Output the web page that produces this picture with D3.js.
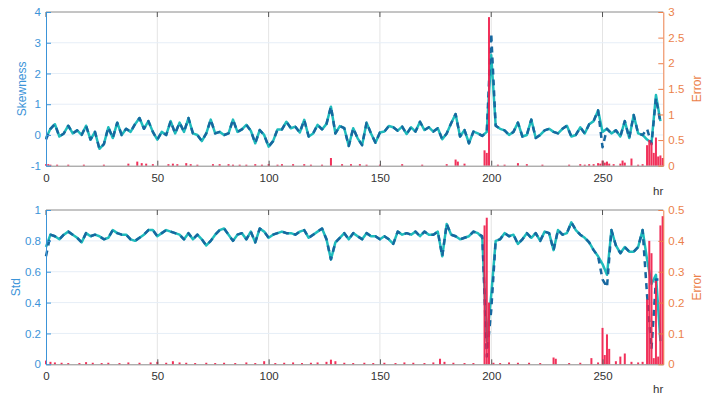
<!DOCTYPE html>
<meta charset="utf-8">
<script src="https://d3js.org/d3.v7.min.js"></script>
<style>
  body { margin: 0; background: #fff; }
  text { font-family: 'Liberation Sans', Arial, sans-serif; }
</style>
<div id="chart"></div>
<script>
// samples every 2 hr
var hours = d3.range(0, 277, 2);

var skewMeasured = [
  -0.15, 0.2, 0.35, -0.05, 0.05, 0.3, 0.05, 0.15, 0.0, 0.3, -0.15, 0.1, -0.45, -0.3, 0.25, -0.1,
  0.4, 0.0, 0.2, 0.1, 0.35, 0.55, 0.2, 0.45, 0.1, -0.15, 0.1, 0.0, 0.45, 0.05, 0.4, 0.1,
  0.55, 0.05, 0.0, -0.2, 0.05, 0.5, 0.05, 0.1, 0.0, 0.05, 0.5, 0.1,
  0.18, 0.33, 0.14, -0.27, 0.16, 0.0, -0.38, -0.2, 0.18, 0.18, 0.43, 0.22, 0.27, 0.08, 0.49, -0.05,
  0.05, 0.33, 0.18, 0.36, 0.92, 0.05, 0.29, 0.22, -0.36, 0.22, -0.11, -0.33, 0.4, 0.05, -0.25, 0.08,
  0.11, 0.29, 0.25, 0.14, 0.27, 0.03, 0.25, 0.11, 0.43, 0.16, 0.25, 0.11, 0.22, -0.14, 0.05, 0.38,
  0.68, -0.05, 0.16, -0.27,
  0.11, 0.05, -0.03, 0.1, 3.3, 0.3, 0.2, 0.15, 0.0, 0.1, 0.4, -0.05, 0.0, 0.5, -0.1, 0.0,
  0.15, 0.2, 0.1, 0.05, 0.2, 0.3, -0.05, 0.0, 0.25, 0.05, 0.35, 0.45, 0.8, -0.4, 0.2, 0.05,
  0.15, -0.05, 0.45, -0.1, 0.65, 0.05, 0.0, 0.2, -0.3, 1.2, 0.4
];
var skewModel = [
  -0.1, 0.2, 0.35, -0.05, 0.05, 0.3, 0.05, 0.15, 0.0, 0.3, -0.15, 0.1, -0.45, -0.3, 0.25, -0.1,
  0.4, 0.0, 0.2, 0.1, 0.35, 0.55, 0.2, 0.45, 0.1, -0.15, 0.1, 0.0, 0.45, 0.05, 0.4, 0.1,
  0.55, 0.05, 0.0, -0.2, 0.05, 0.5, 0.05, 0.1, 0.0, 0.05, 0.5, 0.1,
  0.18, 0.33, 0.14, -0.27, 0.16, 0.0, -0.38, -0.2, 0.18, 0.18, 0.43, 0.22, 0.27, 0.08, 0.49, -0.05,
  0.05, 0.33, 0.18, 0.36, 0.92, 0.05, 0.29, 0.22, -0.36, 0.22, -0.11, -0.33, 0.4, 0.05, -0.25, 0.08,
  0.11, 0.29, 0.25, 0.14, 0.27, 0.03, 0.25, 0.11, 0.43, 0.16, 0.25, 0.11, 0.22, -0.14, 0.05, 0.38,
  0.68, -0.05, 0.16, -0.27,
  0.11, 0.05, -0.03, 0.1, 2.6, 0.3, 0.2, 0.15, 0.0, 0.1, 0.4, -0.05, 0.0, 0.5, -0.1, 0.0,
  0.15, 0.2, 0.1, 0.05, 0.2, 0.3, -0.05, 0.0, 0.25, 0.05, 0.35, 0.45, 0.8, 0.1, 0.2, 0.05,
  0.15, -0.05, 0.45, -0.1, 0.65, 0.05, 0.0, -0.15, -0.25, 1.3, 0.45
];

var stdMeasured = [
  0.70, 0.84, 0.83, 0.81, 0.84, 0.86, 0.84, 0.82, 0.79, 0.85, 0.83, 0.84, 0.83, 0.81, 0.82, 0.87,
  0.85, 0.84, 0.84, 0.81, 0.80, 0.82, 0.84, 0.87, 0.87, 0.83, 0.85, 0.87, 0.86, 0.85, 0.84, 0.81,
  0.85, 0.81, 0.84, 0.81, 0.77, 0.80, 0.84, 0.87, 0.88, 0.84, 0.80, 0.84, 0.85, 0.81, 0.86, 0.79,
  0.88, 0.86, 0.82, 0.84, 0.85, 0.86, 0.85, 0.85, 0.84, 0.86, 0.87, 0.82, 0.84, 0.86, 0.88, 0.81,
  0.68, 0.79, 0.82, 0.85, 0.81, 0.85, 0.83, 0.81, 0.85, 0.83, 0.83, 0.81, 0.83, 0.81, 0.78, 0.86,
  0.84, 0.85, 0.84, 0.86, 0.83, 0.86, 0.84, 0.84, 0.86, 0.70, 0.91, 0.84, 0.83, 0.81, 0.82, 0.83,
  0.86, 0.85,
  0.83, 0.05, 0.35, 0.80, 0.81, 0.85, 0.83, 0.84, 0.78, 0.81, 0.85, 0.82, 0.85, 0.80, 0.86, 0.85,
  0.74, 0.87, 0.84, 0.85, 0.92, 0.87, 0.84, 0.82, 0.79, 0.74, 0.70, 0.55, 0.50, 0.87, 0.77, 0.72,
  0.76, 0.73, 0.73, 0.76, 0.87, 0.45, 0.10, 0.55, 0.55
];
var stdModel = [
  0.76, 0.84, 0.83, 0.81, 0.84, 0.86, 0.84, 0.82, 0.79, 0.85, 0.83, 0.84, 0.83, 0.81, 0.82, 0.87,
  0.85, 0.84, 0.84, 0.81, 0.80, 0.82, 0.84, 0.87, 0.87, 0.83, 0.85, 0.87, 0.86, 0.85, 0.84, 0.81,
  0.85, 0.81, 0.84, 0.81, 0.77, 0.80, 0.84, 0.87, 0.88, 0.84, 0.80, 0.84, 0.85, 0.81, 0.86, 0.79,
  0.88, 0.86, 0.82, 0.84, 0.85, 0.86, 0.85, 0.85, 0.84, 0.86, 0.87, 0.82, 0.84, 0.86, 0.88, 0.81,
  0.68, 0.79, 0.82, 0.85, 0.81, 0.85, 0.83, 0.81, 0.85, 0.83, 0.83, 0.81, 0.83, 0.81, 0.78, 0.86,
  0.84, 0.85, 0.84, 0.86, 0.83, 0.86, 0.84, 0.84, 0.86, 0.70, 0.91, 0.84, 0.83, 0.81, 0.82, 0.83,
  0.86, 0.85,
  0.82, 0.15, 0.45, 0.80, 0.81, 0.85, 0.83, 0.84, 0.78, 0.81, 0.85, 0.82, 0.85, 0.80, 0.86, 0.85,
  0.74, 0.87, 0.84, 0.85, 0.92, 0.87, 0.84, 0.82, 0.79, 0.74, 0.70, 0.65, 0.58, 0.87, 0.77, 0.72,
  0.76, 0.73, 0.73, 0.76, 0.87, 0.68, 0.52, 0.58, 0.15
];

// error bars (hour, value)
var skewErrHr = [0, 1, 2, 5, 10, 17, 26, 37, 41, 43, 45, 48, 55, 57, 59, 63, 65, 68, 75, 78, 82, 84,
  87, 90, 94, 97, 100, 104, 106, 111, 116, 119, 124, 128, 133, 137, 141, 144, 150, 160, 169, 180,
  184, 185, 188, 197, 198, 199, 203, 206, 212, 216, 223, 235, 240, 242, 244, 246, 248, 249, 250,
  251, 252, 253, 255, 258, 259, 260, 263, 266, 268, 270, 271, 272, 273, 274, 275, 276, 277];
var skewErrVal = [0.03, 0.03, 0.02, 0.02, 0.02, 0.02, 0.02, 0.04, 0.08, 0.05, 0.04, 0.03, 0.03, 0.04,
  0.03, 0.05, 0.03, 0.02, 0.03, 0.03, 0.03, 0.02, 0.02, 0.02, 0.03, 0.02, 0.03, 0.02, 0.03, 0.03,
  0.03, 0.02, 0.02, 0.15, 0.03, 0.03, 0.03, 0.02, 0.02, 0.03, 0.02, 0.03, 0.12, 0.08, 0.04, 0.3,
  0.25, 2.9, 0.02, 0.02, 0.05, 0.03, 0.02, 0.02, 0.03, 0.02, 0.03, 0.03, 0.05, 0.04, 0.1, 0.06,
  0.08, 0.04, 0.03, 0.04, 0.1, 0.06, 0.14, 0.02, 0.03, 0.4, 0.5, 0.45, 0.25, 0.55, 0.18, 0.2, 0.15];

var stdErrHr = [0, 2, 4, 7, 10, 15, 18, 21, 25, 28, 33, 37, 42, 47, 50, 54, 57, 60, 63, 67, 72, 76,
  80, 85, 90, 94, 98, 103, 107, 111, 115, 119, 122, 126, 128, 130, 134, 138, 143, 147, 152, 157,
  161, 165, 170, 174, 177, 179, 183, 188, 192, 197, 198, 199, 201, 204, 208, 212, 217, 222, 228,
  229, 235, 240, 245, 248, 250, 251, 252, 253, 256, 258, 260, 263, 266, 268, 270, 271, 272, 273,
  274, 275, 276, 277];
var stdErrVal = [0.012, 0.008, 0.006, 0.005, 0.004, 0.004, 0.007, 0.005, 0.004, 0.005, 0.004, 0.006,
  0.005, 0.006, 0.008, 0.005, 0.01, 0.006, 0.005, 0.004, 0.005, 0.004, 0.005, 0.004, 0.006, 0.004,
  0.01, 0.004, 0.005, 0.006, 0.004, 0.005, 0.006, 0.008, 0.015, 0.01, 0.005, 0.004, 0.005, 0.004,
  0.005, 0.004, 0.006, 0.005, 0.004, 0.006, 0.018, 0.008, 0.005, 0.004, 0.004, 0.45, 0.475, 0.2,
  0.005, 0.004, 0.006, 0.005, 0.005, 0.004, 0.022, 0.018, 0.004, 0.005, 0.02, 0.006, 0.118, 0.03,
  0.097, 0.05, 0.01, 0.025, 0.035, 0.008, 0.006, 0.008, 0.21, 0.40, 0.36, 0.02, 0.27, 0.025, 0.45,
  0.48];

var xTicks = [0, 50, 100, 150, 200, 250];
var skewTicks = [-1, 0, 1, 2, 3, 4];
var skewErrTicks = [0, 0.5, 1, 1.5, 2, 2.5, 3];
var stdTicks = [0, 0.2, 0.4, 0.6, 0.8, 1];
var stdErrTicks = [0, 0.1, 0.2, 0.3, 0.4, 0.5];

var W = 704, H = 401;
var left = 46, right = 663.3;
var blue = '#3c94d8', orange = '#ec7f4a';

var svg = d3.select('#chart').append('svg')
  .attr('width', W).attr('height', H);
svg.append('rect').attr('width', W).attr('height', H).attr('fill', '#fff');

var x = d3.scaleLinear().domain([0, 277.3]).range([left, right]);

function drawPanel(o) {
  var g = svg.append('g');
  var yL = d3.scaleLinear().domain(d3.extent(o.yTicks)).range([o.bottom, o.top]);
  var yR = d3.scaleLinear().domain(d3.extent(o.eTicks)).range([o.bottom, o.top]);

  // grid
  g.append('g').selectAll('line').data(xTicks.slice(1)).enter().append('line')
    .attr('x1', d => x(d)).attr('x2', d => x(d))
    .attr('y1', o.top).attr('y2', o.bottom)
    .attr('stroke', '#e4e4e4');
  g.append('g').selectAll('line').data(o.yTicks.slice(1, -1)).enter().append('line')
    .attr('x1', left).attr('x2', right)
    .attr('y1', d => yL(d)).attr('y2', d => yL(d))
    .attr('stroke', '#e6eef7');

  var line = d3.line().x((d, i) => x(hours[i])).y(d => yL(d));
  g.append('path').datum(o.model).attr('d', line)
    .attr('fill', 'none').attr('stroke', '#1fbcbc').attr('stroke-width', 2.5)
    .attr('stroke-linejoin', 'round');
  g.append('path').datum(o.measured).attr('d', line)
    .attr('fill', 'none').attr('stroke', '#17679f').attr('stroke-width', 2.5)
    .attr('stroke-dasharray', '6,5').attr('stroke-linejoin', 'round');

  // error bars
  g.append('g').selectAll('rect').data(o.errHr).enter().append('rect')
    .attr('x', d => x(d) - 1).attr('width', 2)
    .attr('y', (d, i) => yR(o.errVal[i]))
    .attr('height', (d, i) => o.bottom - yR(o.errVal[i]))
    .attr('fill', '#f0204c').attr('opacity', 0.92);

  // top border with ticks
  g.append('line').attr('x1', left).attr('x2', right).attr('y1', o.top).attr('y2', o.top)
    .attr('stroke', '#8a8a8a');
  g.append('g').selectAll('line').data(xTicks).enter().append('line')
    .attr('x1', d => x(d)).attr('x2', d => x(d)).attr('y1', o.top).attr('y2', o.top + 5)
    .attr('stroke', '#555');

  // x axis
  var ax = g.append('g').attr('transform', 'translate(0,' + o.bottom + ')')
    .call(d3.axisBottom(x).tickValues(xTicks).tickSizeInner(-5).tickSizeOuter(0).tickPadding(8));
  ax.select('.domain').attr('stroke', '#8a8a8a');
  ax.selectAll('line').attr('stroke', '#555');
  ax.selectAll('text').attr('fill', '#333').style('font-size', '11.5px');

  // left axis
  var al = g.append('g').attr('transform', 'translate(' + left + ',0)')
    .call(d3.axisLeft(yL).tickValues(o.yTicks).tickSizeInner(-5).tickSizeOuter(0).tickPadding(5)
      .tickFormat(d => String(d)));
  al.select('.domain').attr('stroke', blue);
  al.selectAll('line').attr('stroke', blue);
  al.selectAll('text').attr('fill', blue).style('font-size', '11.5px');

  // right axis
  var ar = g.append('g').attr('transform', 'translate(' + right + ',0)')
    .call(d3.axisRight(yR).tickValues(o.eTicks).tickSizeInner(-5).tickSizeOuter(0).tickPadding(5)
      .tickFormat(d => String(d)));
  ar.select('.domain').attr('stroke', orange);
  ar.selectAll('line').attr('stroke', orange);
  ar.selectAll('text').attr('fill', orange).style('font-size', '11.5px');

  var mid = (o.top + o.bottom) / 2;
  g.append('text').attr('transform', 'translate(' + o.labelX + ',' + mid + ') rotate(-90)')
    .attr('text-anchor', 'middle').attr('dy', '0.35em')
    .attr('fill', blue).style('font-size', '12px').text(o.label);
  g.append('text').attr('transform', 'translate(697,' + mid + ') rotate(-90)')
    .attr('text-anchor', 'middle').attr('dy', '0.35em')
    .attr('fill', orange).style('font-size', '12px').text('Error');
  g.append('text').attr('x', right).attr('y', o.bottom + 29)
    .attr('text-anchor', 'end').attr('fill', '#333').style('font-size', '11.5px').text('hr');
}

drawPanel({
  top: 12, bottom: 165.7, yTicks: skewTicks, eTicks: skewErrTicks,
  measured: skewMeasured, model: skewModel, errHr: skewErrHr, errVal: skewErrVal,
  label: 'Skewness', labelX: 22
});
drawPanel({
  top: 210, bottom: 364.3, yTicks: stdTicks, eTicks: stdErrTicks,
  measured: stdMeasured, model: stdModel, errHr: stdErrHr, errVal: stdErrVal,
  label: 'Std', labelX: 16
});
</script>
